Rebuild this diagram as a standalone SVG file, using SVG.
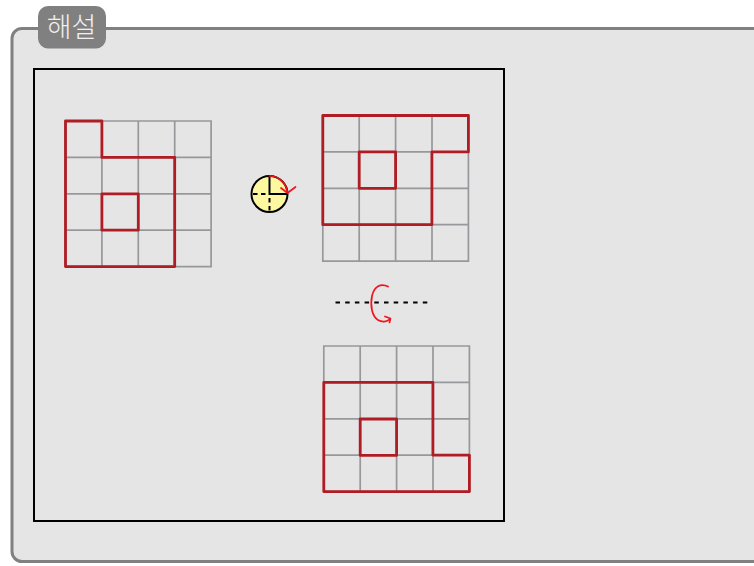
<svg xmlns="http://www.w3.org/2000/svg" width="754" height="566" viewBox="0 0 754 566">
<defs>
<style>
.grid{fill:none;stroke:#98989c;stroke-width:1.700}
.red{fill:none;stroke:#b01c24;stroke-width:2.800;stroke-linejoin:round;stroke-linecap:round}
.dash{fill:none;stroke:#000;stroke-width:1.800;stroke-dasharray:4.500 5.200}
.arrow{fill:none;stroke:#f0141e;stroke-width:1.700;stroke-linecap:round;stroke-linejoin:round}
</style>
<g id="cells">
<path class="grid" d="M0 0H145.600V145.600H0ZM36.400 0V145.600M72.800 0V145.600M109.200 0V145.600M0 36.400H145.600M0 72.800H145.600M0 109.200H145.600"/>
</g>
</defs>
<rect width="754" height="566" fill="#fff"/>
<g id="panel">
<rect x="12" y="28.500" width="790" height="533" rx="10" fill="#e5e5e5" stroke="#808080" stroke-width="3"/>
</g>
<g id="title">
<rect x="38" y="6" width="68" height="42.500" rx="10" fill="#808080"/>
<text x="71.500" y="37" font-family="'Noto Sans CJK KR','Noto Sans',sans-serif" font-size="27" font-weight="300" fill="#f0f0f0" text-anchor="middle">해설</text>
</g>
<g id="frame">
<rect x="34" y="69" width="470" height="452" fill="#e5e5e5" stroke="#000" stroke-width="2"/>
</g>
<g id="grid-original">
<use href="#cells" x="65.500" y="121"/>
<path class="red" d="M65.500 266.600V121H101.900V157.400H174.700V266.600ZM101.900 193.800H138.300V230.200H101.900Z"/>
</g>
<g id="grid-rotated">
<use href="#cells" x="322.800" y="115.500"/>
<path class="red" d="M322.800 115.500H468.400V151.900H431.900V224.700H322.800ZM359.200 151.900H395.600V188.300H359.200Z"/>
</g>
<g id="grid-flipped">
<use href="#cells" x="323.800" y="346"/>
<path class="red" d="M323.800 382.400H432.900V455.200H469.400V491.600H323.800ZM360.200 419H396.600V455.400H360.200Z"/>
</g>
<g id="rotation-symbol">
<circle cx="269.500" cy="194" r="18" fill="#fdf7a0" stroke="#000" stroke-width="2"/>
<path d="M269.500 176V194H287.500" fill="none" stroke="#000" stroke-width="2"/>
<path d="M253 194H265.500M269.500 198V212" fill="none" stroke="#000" stroke-width="2" stroke-dasharray="4.500 3.500"/>
<path class="arrow" d="M269.500 176A18 18 0 0 1 287.300 192"/>
<path class="arrow" d="M281 188L287.500 193L295.500 187"/>
</g>
<g id="flip-symbol">
<path class="dash" d="M335.500 302.500H429"/>
<path class="arrow" d="M388 286.500C381 283 374 286 372 296C370 306 372 316 378 320C382 322.500 387 322 390 319"/>
<path class="arrow" d="M385 316.500L390.500 318.500L389.500 322.500"/>
</g>
</svg>
